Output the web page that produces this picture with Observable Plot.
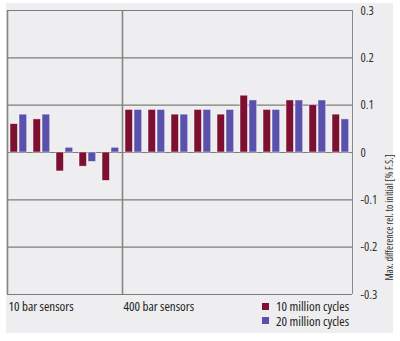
<!DOCTYPE html>
<html><head><meta charset="utf-8">
<script src="https://cdn.jsdelivr.net/npm/d3@7"></script>
<script src="https://cdn.jsdelivr.net/npm/@observablehq/plot@0.6"></script>
<style>
body{margin:0;background:#fff;font-family:"Open Sans",sans-serif;font-stretch:75%;}
#wrap{position:relative;width:400px;height:341px;overflow:hidden;}
#bg{position:absolute;left:6px;top:3px;width:387px;height:330px;background:#eeeef0;}
#chart{position:absolute;left:0;top:0;}
#chart svg, #chart text{font-stretch:75%;}
#legend{position:absolute;left:262px;top:299px;font-size:13px;color:#222;font-stretch:77%;}
#legend div{display:flex;align-items:center;height:14.5px;line-height:14px;}
.sw{display:inline-block;width:7px;height:7px;margin-right:7px;}
</style></head><body>
<div id="wrap"><div id="bg"></div><div id="chart"></div><div id="legend"></div></div>
<script>
const groups = ["10 bar sensors", "400 bar sensors"];
const groupStart = [0, 5];
const sensors = ["10-1","10-2","10-3","10-4","10-5",
  "400-1","400-2","400-3","400-4","400-5","400-6","400-7","400-8","400-9","400-10"];
const series = ["10 million cycles", "20 million cycles"];
const colors = ["#7d1030", "#5a51ad"];
const values10M = [0.06, 0.07, -0.04, -0.03, -0.06, 0.09, 0.09, 0.08, 0.09, 0.08, 0.12, 0.09, 0.11, 0.10, 0.08];
const values20M = [0.08, 0.08, 0.01, -0.02, 0.01, 0.09, 0.09, 0.08, 0.09, 0.09, 0.11, 0.09, 0.11, 0.11, 0.07];
const yTicks = [-0.3, -0.2, -0.1, 0, 0.1, 0.2, 0.3];
const yLabel = "Max. difference rel. to initial [% F.S.]";

const font = '"Open Sans",sans-serif';
const rows10 = sensors.map((s, i) => ({sensor: s, value: values10M[i]}));
const rows20 = sensors.map((s, i) => ({sensor: s, value: values20M[i]}));
const band = (400 - 7 - 48) / sensors.length;

const chart = Plot.plot({
  width: 400, height: 341,
  marginLeft: 7, marginRight: 48, marginTop: 10, marginBottom: 47,
  style: {background: "transparent", fontFamily: font, fontSize: "12.5px", color: "#333", overflow: "visible"},
  x: {type: "band", domain: sensors, padding: 0, axis: null},
  y: {domain: [-0.3, 0.3], axis: "right", ticks: yTicks, tickSize: 0, tickPadding: 8,
      tickFormat: d => d === 0 ? "0" : d.toFixed(1), label: null},
  marks: [
    Plot.ruleY(yTicks, {stroke: "#7c7c7c", strokeWidth: 1.1}),
    Plot.ruleX(groupStart.map(i => sensors[i]), {dx: -band / 2, stroke: "#858585", strokeWidth: 1.6}),
    Plot.ruleX([sensors[sensors.length - 1]], {dx: band / 2, stroke: "#8a8a8a", strokeWidth: 1}),
    Plot.barY(rows10, {x: "sensor", y: "value", fill: colors[0], insetLeft: 3, insetRight: 12.5,
      stroke: "white", strokeWidth: 0.8, strokeOpacity: 0.6}),
    Plot.barY(rows20, {x: "sensor", y: "value", fill: colors[1], insetLeft: 12, insetRight: 3.3,
      stroke: "white", strokeWidth: 0.8, strokeOpacity: 0.6}),
    Plot.text(groups, {x: (d, i) => sensors[groupStart[i]], y: () => -0.3, dx: -band / 2 + 1, dy: 12,
      textAnchor: "start", fill: "#222", fontSize: 13}),
    Plot.text([yLabel], {frameAnchor: "right", rotate: -90, dx: 37, dy: 2, fill: "#333", fontSize: 10})
  ]
});
document.getElementById("chart").appendChild(chart);

const legend = document.getElementById("legend");
series.forEach((s, i) => {
  const row = document.createElement("div");
  const sw = document.createElement("span");
  sw.className = "sw"; sw.style.background = colors[i];
  row.appendChild(sw);
  row.appendChild(document.createTextNode(s));
  legend.appendChild(row);
});
</script>
</body></html>
